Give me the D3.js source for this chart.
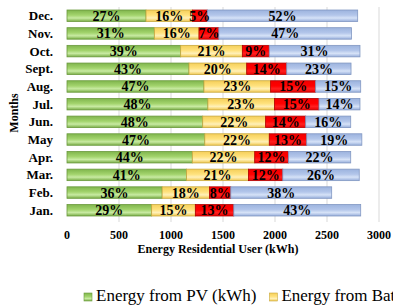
<!DOCTYPE html>
<html>
<head>
<meta charset="utf-8">
<script src="https://cdn.jsdelivr.net/npm/d3@7"></script>
<style>
  body { margin: 0; background: #fff; }
</style>
</head>
<body>
<svg id="chart" width="393" height="305" font-family="'Liberation Serif', 'Times New Roman', serif"></svg>
<script>
// months listed top to bottom, as on the chart
const months = ["Dec.", "Nov.", "Oct.", "Sept.", "Aug.", "Jul.", "Jun.", "May", "Apr.", "Mar.", "Feb.", "Jan."]
// energy in kWh
const pv      = [760, 840, 1093, 1173, 1317, 1355, 1305, 1325, 1205, 1150, 915, 814]
const battery = [445, 429, 593, 555, 641, 640, 605, 620, 600, 595, 455, 420]
const grid    = [144, 191, 259, 385, 433, 428, 385, 360, 325, 330, 205, 370]
const other   = [1446, 1275, 872, 618, 433, 394, 433, 530, 598, 735, 970, 1220]
const xTicks = [0, 500, 1000, 1500, 2000, 2500, 3000]
const legendNames = ["Energy from PV (kWh)", "Energy from Battery (kWh)"]

var svg = d3.select("#chart")
const pLeft = 67, pRight = 379, pTop = 7, pBottom = 219

var x = d3.scaleLinear().domain([0, 3000]).range([pLeft, pRight])
var y = d3.scaleBand().domain(months).range([pTop, pBottom]).paddingInner(0.35).paddingOuter(0.17)

let series = [
    {key: "pv", vals: pv, c: ["#7fb54c", "#a3d46d", "#c8eaa2", "#78ad45"], stroke: "#6b9a3e"},
    {key: "bat", vals: battery, c: ["#f5cf5a", "#ffe27e", "#fff0b8", "#f0c850"], stroke: "#c9a93f"},
    {key: "grid", vals: grid, c: ["#f20000", "#ff0000", "#ff2020", "#e80000"], stroke: "#b00000"},
    {key: "oth", vals: other, c: ["#9cb3de", "#b3c6ea", "#d6e2f7", "#97aedb"], stroke: "#8197c2"}
]

// gradients for the bevelled bar look
var defs = svg.append("defs")
series.forEach(s => {
    let g = defs.append("linearGradient").attr("id", "g-" + s.key)
        .attr("x1", 0).attr("y1", 0).attr("x2", 0).attr("y2", 1)
    g.append("stop").attr("offset", "0%").attr("stop-color", s.c[0])
    g.append("stop").attr("offset", "45%").attr("stop-color", s.c[1])
    g.append("stop").attr("offset", "70%").attr("stop-color", s.c[2])
    g.append("stop").attr("offset", "100%").attr("stop-color", s.c[3])
})

// gridlines
svg.append("g").selectAll("line")
    .data(xTicks.slice(1))
    .enter().append("line")
    .attr("x1", d => x(d)).attr("x2", d => x(d))
    .attr("y1", pTop).attr("y2", pBottom + 3)
    .attr("stroke", "#d9d9d9").attr("stroke-width", 1)

// stacked rows
let rows = months.map((m, i) => {
    let total = pv[i] + battery[i] + grid[i] + other[i]
    let start = 0
    return series.map(s => {
        let v = s.vals[i]
        let seg = {month: m, s: s, x0: start, x1: start + v, pct: Math.round(v / total * 100)}
        start += v
        return seg
    })
}).flat()

svg.append("g").selectAll("rect")
    .data(rows)
    .enter().append("rect")
    .attr("x", d => x(d.x0))
    .attr("y", d => y(d.month))
    .attr("width", d => x(d.x1) - x(d.x0))
    .attr("height", y.bandwidth())
    .attr("fill", d => "url(#g-" + d.s.key + ")")
    .attr("stroke", d => d.s.stroke)
    .attr("stroke-width", 0.8)

svg.append("g").selectAll("text")
    .data(rows)
    .enter().append("text")
    .attr("x", d => (x(d.x0) + x(d.x1)) / 2)
    .attr("y", d => y(d.month) + y.bandwidth() / 2 + 5)
    .attr("text-anchor", "middle")
    .style("font-size", "14px").style("font-weight", "bold")
    .text(d => d.pct + "%")

// y axis labels
svg.append("g").selectAll("text")
    .data(months)
    .enter().append("text")
    .attr("x", 53)
    .attr("y", d => y(d) + y.bandwidth() / 2 + 4.5)
    .attr("text-anchor", "end")
    .style("font-size", "13px").style("font-weight", "bold")
    .text(d => d)

// x axis labels
svg.append("g").selectAll("text")
    .data(xTicks)
    .enter().append("text")
    .attr("x", d => x(d))
    .attr("y", 239)
    .attr("text-anchor", "middle")
    .style("font-size", "12px").style("font-weight", "bold")
    .text(d => d)

svg.append("text").attr("x", 218).attr("y", 253).attr("text-anchor", "middle")
    .style("font-size", "12px").style("font-weight", "bold")
    .text("Energy Residential User (kWh)")

svg.append("text").attr("transform", "translate(18,113) rotate(-90)")
    .attr("text-anchor", "middle")
    .style("font-size", "12px").style("font-weight", "bold")
    .text("Months")

// legend, second entry runs off the right edge like the original
const legend = svg.append("g")
let lx = 84
legendNames.forEach((name, i) => {
    let s = series[i]
    legend.append("rect").attr("x", lx).attr("y", 293).attr("width", 8).attr("height", 8)
        .attr("fill", "url(#g-" + s.key + ")").attr("stroke", s.stroke).attr("stroke-width", 0.6)
    let t = legend.append("text").attr("x", lx + 12).attr("y", 301)
        .style("font-size", "17px").text(name)
    lx += 12 + t.node().getComputedTextLength() + 13
})
</script>
</body>
</html>
